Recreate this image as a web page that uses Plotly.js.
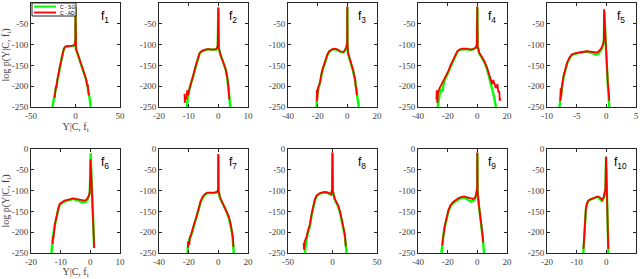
<!DOCTYPE html>
<html><head><meta charset="utf-8">
<script src="https://cdn.plot.ly/plotly-3.0.1.min.js"></script>
<style>html,body{margin:0;padding:0;background:#fff}#chart{width:640px;height:279px}</style>
</head><body><div id="chart"></div>
<script>
// ---- data (pairs of [Y|C,f_i , log p]) ----
const panelNames = ['f<sub>1</sub>','f<sub>2</sub>','f<sub>3</sub>','f<sub>4</sub>','f<sub>5</sub>','f<sub>6</sub>','f<sub>7</sub>','f<sub>8</sub>','f<sub>9</sub>','f<sub>10</sub>'];
const xRanges = [[-50,50],[-20,10],[-40,20],[-40,20],[-10,5],[-20,10],[-40,20],[-50,50],[-40,20],[-20,10]];
const xTickSteps = [50,10,20,20,5,10,20,50,20,10];
const yRange = [-250,0];
const yTickStep = 50;
const seriesNames = ['C - SG','C - AD'];

const f1_sg = [[-26,-250],[-24.5,-232],[-22.5,-210],[-20.5,-186],[-18,-160],[-15.5,-132],[-13,-110],[-11,-105],[-8,-104],[-5,-104],[-2,-103],[-0.6,-99],[-0.1,-90],[0,-12],[0.1,-92],[0.6,-112],[2,-120],[4,-133],[6,-145],[8,-156],[10,-170],[12,-185],[13.5,-200],[15,-215],[16,-230],[17,-250]];
const f1_ad = [[-23.5,-228],[-23,-210],[-22.5,-218],[-22,-200],[-21.5,-205],[-20.5,-186],[-18,-158],[-15.5,-130],[-13,-109],[-11,-104],[-8,-104],[-5,-103],[-2,-102],[-0.6,-98],[-0.1,-90],[0,-8],[0.1,-92],[0.6,-111],[2,-119],[4,-131],[6,-143],[8,-154],[10,-168],[12,-183],[13,-200],[13.8,-196],[14.5,-215],[15,-222]];

const f2_sg = [[-10.6,-250],[-10.3,-228],[-9.7,-205],[-9,-190],[-8.5,-177],[-7.5,-150],[-6.3,-121],[-5.5,-116],[-4.5,-113],[-3.5,-111],[-2,-112],[-0.7,-112],[-0.2,-105],[0,-12],[0.15,-108],[0.7,-125],[1.6,-141],[2.5,-161],[3,-180],[3.4,-200],[3.7,-225],[4.0,-250]];
const f2_ad = [[-11.4,-218],[-11.3,-240],[-11.1,-225],[-10.8,-232],[-10.5,-210],[-10.2,-222],[-9.7,-205],[-9,-190],[-8.5,-175],[-7.5,-148],[-6.3,-120],[-5.5,-115],[-4.5,-112],[-3.5,-111],[-2,-112],[-0.7,-111],[-0.2,-104],[0,-10],[0.15,-107],[0.7,-124],[1.6,-140],[2.5,-160],[3,-178],[3.4,-200],[3.7,-232]];

const f3_sg = [[-20.8,-250],[-20.3,-222],[-19.5,-206],[-18.5,-193],[-17,-165],[-15.1,-141],[-13.5,-126],[-12.2,-117],[-10,-112],[-8.3,-111],[-6.5,-113],[-4.9,-117],[-2.7,-119],[-1.5,-114],[-0.5,-105],[-0.1,-96],[0,-10],[0.1,-100],[0.5,-122],[1.4,-133],[2.9,-149],[4,-165],[5.2,-185],[6,-205],[6.8,-225],[7.7,-250]];
const f3_ad = [[-20.6,-236],[-20.5,-208],[-20.2,-230],[-19.8,-205],[-18.5,-192],[-17,-163],[-15.1,-139],[-13.5,-124],[-12.2,-116],[-10,-111],[-8.3,-110],[-6.5,-112],[-4.9,-116],[-2.7,-118],[-1.5,-113],[-0.5,-104],[-0.1,-95],[0,-8],[0.1,-99],[0.5,-120],[1.4,-131],[2.9,-147],[4,-162],[4.6,-175],[5.2,-182],[5.6,-200],[6,-203],[6.4,-222]];

const f4_sg = [[-26.7,-250],[-26.2,-235],[-25.5,-222],[-24.8,-209],[-23.5,-213],[-22.5,-190],[-21.4,-181],[-19.5,-165],[-18.1,-153],[-16,-135],[-13.5,-117],[-12,-113],[-10.1,-111],[-7,-111],[-4.5,-113],[-2.5,-111],[-1.1,-108],[-0.3,-102],[0,-10],[0.2,-104],[1.2,-121],[3,-131],[4.6,-141],[6.5,-158],[8,-177],[9.5,-198],[10.9,-220],[11.8,-235],[12.5,-250]];
const f4_ad = [[-27.6,-232],[-27.3,-210],[-27,-240],[-26.5,-215],[-25.5,-205],[-24.8,-200],[-23.5,-192],[-22,-180],[-21,-175],[-19.5,-163],[-18.1,-150],[-16,-133],[-13.5,-116],[-12,-112],[-10.1,-110],[-7,-110],[-4.5,-112],[-2.5,-110],[-1.1,-107],[-0.3,-100],[0,-8],[0.2,-103],[1.2,-119],[3,-129],[4.6,-139],[6.5,-155],[8,-172],[9.1,-185],[10,-195],[10.8,-185],[11.4,-193],[12.5,-205],[13.2,-198],[13.6,-197],[14.2,-215],[14.8,-212],[15.1,-235],[15.4,-228]];

const f5_sg = [[-7.9,-250],[-7.75,-230],[-7.65,-217],[-7.45,-200],[-7.2,-177],[-6.9,-160],[-6.6,-145],[-6.2,-133],[-5.8,-125],[-5,-121],[-4.4,-119],[-3.3,-117],[-2.7,-119],[-2.2,-121],[-1.7,-124],[-1.3,-122],[-0.8,-111],[-0.5,-98],[-0.4,-90],[-0.35,-18],[-0.2,-80],[0.05,-140],[0.25,-195],[0.5,-250]];
const f5_ad = [[-7.75,-235],[-7.7,-205],[-7.6,-225],[-7.5,-203],[-7.2,-175],[-6.9,-158],[-6.6,-143],[-6.2,-131],[-5.8,-123],[-5,-120],[-4.4,-118],[-3.3,-116],[-2.7,-117],[-2.2,-118],[-1.7,-119],[-1.3,-117],[-0.8,-108],[-0.5,-96],[-0.42,-88],[-0.38,-15],[-0.2,-78],[0.05,-138],[0.25,-192],[0.45,-222],[0.5,-235]];

const f6_sg = [[-13.1,-250],[-12.9,-230],[-12.6,-210],[-12,-185],[-11.4,-162],[-10.8,-145],[-10.3,-134],[-9.5,-129],[-8.7,-126],[-7,-123],[-5.9,-120],[-4.8,-122],[-3.7,-126],[-2.8,-128],[-2,-128],[-1.4,-126],[-0.9,-122],[-0.5,-115],[-0.2,-106],[0,-60],[0.1,-10],[0.4,-70],[0.7,-128],[1,-185],[1.3,-238]];
const f6_ad = [[-12.7,-228],[-12.6,-210],[-12.4,-215],[-12,-183],[-11.4,-160],[-10.8,-143],[-10.3,-132],[-9.5,-127],[-8.7,-124],[-7,-121],[-5.9,-119],[-4.8,-120],[-3.7,-122],[-2.8,-124],[-2,-124],[-1.4,-122],[-0.9,-118],[-0.5,-112],[-0.2,-104],[0,-60],[0.05,-25],[0.4,-75],[0.7,-130],[1,-187],[1.3,-238]];

const f7_sg = [[-20.7,-250],[-20.4,-228],[-19.6,-218],[-18.8,-212],[-17.8,-202],[-16.5,-185],[-15.1,-170],[-13.5,-148],[-11.8,-126],[-10.5,-116],[-9.6,-112],[-8.5,-108],[-7.3,-106],[-5,-106],[-2.9,-106],[-0.7,-104],[-0.1,-98],[0,-14],[0.1,-100],[1.1,-118],[2.5,-128],[3.8,-138],[5.5,-150],[7.1,-166],[8.3,-183],[9.3,-202],[9.9,-225],[10.4,-250]];
const f7_ad = [[-20.5,-238],[-20.3,-222],[-19.5,-230],[-19.2,-212],[-18.5,-208],[-17.8,-198],[-16.5,-182],[-15.1,-167],[-13.5,-145],[-11.8,-124],[-10.5,-114],[-9.6,-110],[-8.5,-107],[-7.3,-105],[-5,-105],[-2.9,-105],[-0.7,-103],[-0.1,-96],[0,-12],[0.1,-99],[1.1,-116],[2.5,-126],[3.8,-136],[5.5,-148],[7.1,-163],[8.3,-180],[9.3,-198],[9.9,-215],[10.2,-235]];

const f8_sg = [[-31.1,-250],[-30.5,-232],[-29.2,-218],[-27.5,-200],[-25.5,-186],[-23.5,-160],[-21.7,-138],[-19.8,-124],[-17.9,-114],[-15,-108],[-12.3,-106],[-8.5,-104],[-4.9,-106],[-2.5,-109],[-1.5,-110],[-0.4,-98],[0,-10],[0.3,-102],[2.6,-122],[4.5,-130],[6.4,-138],[8.5,-153],[10.2,-170],[12,-190],[13.9,-210],[15,-232],[15.8,-250]];
const f8_ad = [[-32.3,-226],[-32,-242],[-31.3,-222],[-30.5,-218],[-29.2,-212],[-27.5,-196],[-25.5,-182],[-23.5,-156],[-21.7,-135],[-19.8,-121],[-17.9,-112],[-15,-107],[-12.3,-105],[-8.5,-103],[-4.9,-105],[-2.5,-108],[-1.5,-109],[-0.4,-96],[0,-8],[0.3,-101],[2.6,-120],[4.5,-128],[6.4,-136],[8.5,-150],[10.2,-167],[12,-186],[13,-200],[13.9,-205],[14.5,-222],[15,-234]];

const f9_sg = [[-24.2,-250],[-23.8,-228],[-23,-210],[-22,-188],[-20.8,-166],[-19.5,-150],[-18.1,-138],[-16.5,-131],[-14.7,-126],[-12,-120],[-9,-116],[-7,-120],[-5.5,-125],[-4.5,-126],[-3,-125],[-1.8,-122],[-1,-114],[-0.5,-106],[-0.1,-95],[0,-10],[0.2,-105],[1.1,-138],[1.9,-158],[2.7,-178],[3.5,-210],[4.2,-235],[4.5,-250]];
const f9_ad = [[-23.6,-232],[-23.4,-215],[-23,-212],[-22,-186],[-20.8,-164],[-19.5,-147],[-18.1,-135],[-16.5,-128],[-14.7,-123],[-12,-117],[-9,-114],[-7,-116],[-5.5,-119],[-4.5,-120],[-3,-120],[-1.8,-118],[-1,-112],[-0.5,-104],[-0.1,-94],[0,-8],[0.2,-104],[1.1,-136],[1.9,-156],[2.7,-176],[3.5,-205],[4.0,-225]];

const f10_sg = [[-7.75,-250],[-7.6,-225],[-7.4,-202],[-7.15,-170],[-6.9,-146],[-6.5,-132],[-6.1,-126],[-5.4,-122],[-4.6,-120],[-3.8,-117],[-2.9,-115],[-2.3,-118],[-1.8,-124],[-1.4,-125],[-0.9,-118],[-0.5,-105],[-0.3,-98],[-0.1,-20],[0.15,-93],[0.45,-180],[0.7,-250]];
const f10_ad = [[-7.7,-240],[-7.55,-222],[-7.4,-200],[-7.15,-168],[-6.9,-144],[-6.5,-130],[-6.1,-124],[-5.4,-121],[-4.6,-119],[-3.8,-116],[-2.9,-114],[-2.3,-116],[-1.8,-121],[-1.4,-122],[-0.9,-116],[-0.5,-104],[-0.3,-96],[-0.1,-18],[0.15,-95],[0.45,-182],[0.65,-240]];

const sgSeries = [f1_sg,f2_sg,f3_sg,f4_sg,f5_sg,f6_sg,f7_sg,f8_sg,f9_sg,f10_sg];
const adSeries = [f1_ad,f2_ad,f3_ad,f4_ad,f5_ad,f6_ad,f7_ad,f8_ad,f9_ad,f10_ad];

// ---- layout / styling ----
const W = 640, H = 279;
const colLeft = [31,159,288,418,547], panelW = 89;
const rowTop = [3,149], panelH = 104;
const serif = '"Liberation Serif", "Times New Roman", serif', sans = '"Liberation Sans", Arial, sans-serif';
const axisCol = '#262626';
const tickCol = '#404040';
const green = 'rgb(0,255,0)', red = 'rgb(255,0,0)';
const seriesColors = [green, red];

const traces = [];
const layout = {
  width: W, height: H, margin: {l:0,r:0,t:0,b:0},
  paper_bgcolor: '#fff', plot_bgcolor: '#fff',
  showlegend: false,
  annotations: [], shapes: []
};

// compact MATLAB-style legend box inside panel f1
const px = v => v / W, py = v => 1 - v / H;
layout.shapes.push({type:'rect', xref:'paper', yref:'paper', x0:px(32), x1:px(76), y0:py(16), y1:py(3),
  line:{color:axisCol, width:1}, fillcolor:'#fff', layer:'above'});
seriesNames.forEach((nm, k) => {
  const yy = 6.5 + k*6;
  layout.shapes.push({type:'line', xref:'paper', yref:'paper', x0:px(34), x1:px(56), y0:py(yy), y1:py(yy),
    line:{color:seriesColors[k], width:k===0?2:1.8}, layer:'above'});
  layout.annotations.push({xref:'paper', yref:'paper', x:px(58), y:py(yy), xanchor:'left', yanchor:'middle',
    text:nm, showarrow:false, font:{family:sans, size:5, color:'#000'}});
});

for (let i = 0; i < 10; i++) {
  const r = Math.floor(i/5), c = i % 5;
  const sfx = i === 0 ? '' : String(i+1);
  const xa = 'x' + sfx, ya = 'y' + sfx;
  const step = xTickSteps[i];
  const xt = [];
  for (let v = xRanges[i][0]; v <= xRanges[i][1] + 1e-9; v += step) xt.push(v);
  const yt = [];
  for (let v = yRange[0]; v <= yRange[1]; v += yTickStep) yt.push(v);
  const common = {showline:true, mirror:'ticks', linecolor:axisCol, linewidth:1,
    ticks:'inside', ticklen:3, tickcolor:axisCol, showgrid:false, zeroline:false,
    tickfont:{family:serif, size:9, color:tickCol}, fixedrange:true};
  layout['xaxis' + sfx] = Object.assign({}, common, {
    domain: [colLeft[c]/W, (colLeft[c]+panelW)/W], anchor: ya,
    range: xRanges[i], tickmode:'array', tickvals: xt, ticktext: xt.map(String)
  });
  layout['yaxis' + sfx] = Object.assign({}, common, {
    domain: [1-(rowTop[r]+panelH)/H, 1-rowTop[r]/H], anchor: xa,
    range: yRange, tickmode:'array', tickvals: yt, ticktext: yt.map(String)
  });
  if (c === 0) {
    layout['xaxis' + sfx].title = {text:'Y|C, f<sub>i</sub>', font:{family:serif, size:10, color:tickCol}, standoff: 3};
    layout['yaxis' + sfx].title = {text:'log p(Y|C, f<sub>i</sub>)', font:{family:serif, size:10, color:tickCol}, standoff: 3};
  }
  layout.annotations.push({xref: xa + ' domain', yref: ya + ' domain', x: 0.83, y: 0.87,
    xanchor:'center', yanchor:'middle', showarrow:false, text: panelNames[i],
    font:{family:sans, size:12, color:'#000'}});
  traces.push({type:'scatter', mode:'lines', xaxis: xa, yaxis: ya, name: seriesNames[0],
    x: sgSeries[i].map(p=>p[0]), y: sgSeries[i].map(p=>p[1]),
    line:{color:green, width:2.4}, hoverinfo:'skip'});
  traces.push({type:'scatter', mode:'lines', xaxis: xa, yaxis: ya, name: seriesNames[1],
    x: adSeries[i].map(p=>p[0]), y: adSeries[i].map(p=>p[1]),
    line:{color:red, width:1.8}, hoverinfo:'skip'});
}

Plotly.newPlot('chart', traces, layout, {staticPlot:true, displayModeBar:false});
</script>
</body></html>
